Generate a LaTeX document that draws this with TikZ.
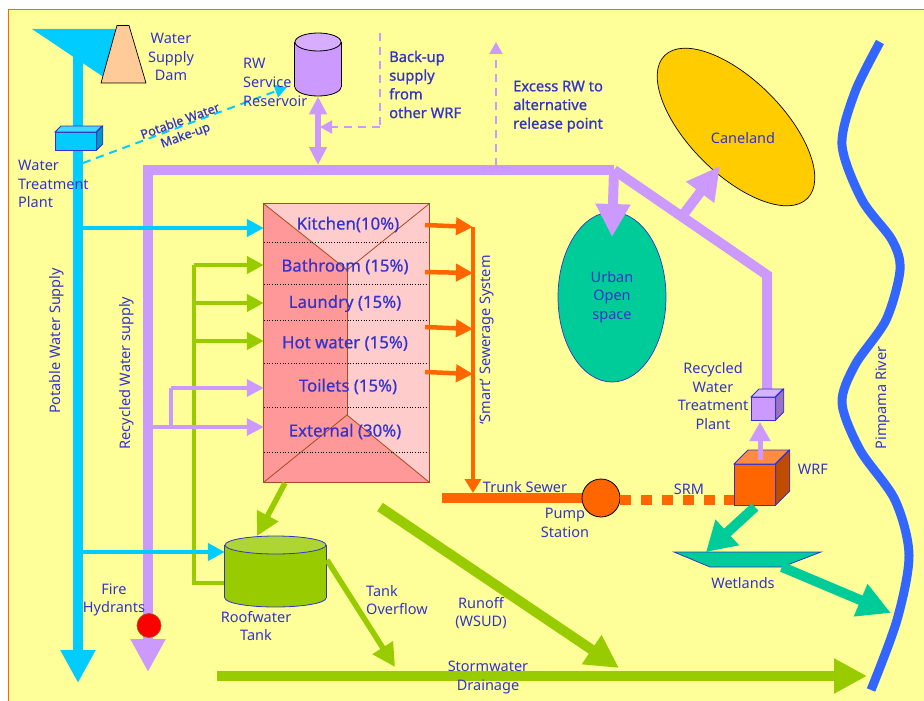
\documentclass[tikz,border=0pt]{standalone}
\usepackage{fontspec}
\setmainfont{Noto Sans}
\newfontfamily\heavyfont[FakeBold=0.9]{Noto Sans}
\newfontfamily\roomfont[FakeBold=0.5]{Noto Sans}
\usetikzlibrary{arrows.meta,shapes.geometric}
\definecolor{paper}{HTML}{FFFF99}
\definecolor{potable}{HTML}{00CCFF}
\definecolor{recycled}{HTML}{CC99FF}
\definecolor{roofgreen}{HTML}{99CC00}
\definecolor{sewer}{HTML}{FF6600}
\definecolor{wetgreen}{HTML}{00CC99}
\definecolor{riverblue}{HTML}{3366FF}
\definecolor{ink}{HTML}{3333CC}
\definecolor{wall}{HTML}{A64B1E}
\definecolor{damface}{HTML}{FFCC99}
\definecolor{caneface}{HTML}{FFCC00}
\definecolor{lightroom}{HTML}{FFCCCC}
\definecolor{darkroom}{HTML}{FF9999}
% front face as a node, then its top and side
\newcommand{\cuboid}[7]{
  \node[draw=ink, fill=#7, line width=0.8pt, minimum width=#4pt, minimum height=#5pt, anchor=north west] (#1) at (#2,#3) {};
  \draw[draw=ink, fill=#7!75!white, line width=0.8pt] (#1.north west) -- ++(#6,-#6) -- ++(#4,0) -- ++(-#6,#6) -- cycle;
  \draw[draw=ink, fill=#7!75!black, line width=0.8pt] (#1.north east) -- ++(#6,-#6) -- ++(0,#5) -- ++(-#6,#6) -- cycle;
}
% name, centre x, lid y, width, body height, lid height, fill, line
\newcommand{\barrel}[8]{
  \node[ellipse, draw=#8, fill=#7, line width=0.8pt, minimum width=#4pt, minimum height=#6pt, anchor=center] (#1foot) at (#2,#3+#5) {};
  \node[fill=#7, minimum width=#4pt, minimum height=#5pt, anchor=north] (#1) at (#2,#3) {};
  \draw[draw=#8, line width=0.8pt] (#1.north west) -- (#1.south west);
  \draw[draw=#8, line width=0.8pt] (#1.north east) -- (#1.south east);
  \node[ellipse, draw=#8, fill=#7!80!white, line width=0.8pt, minimum width=#4pt, minimum height=#6pt, anchor=center] (#1lid) at (#2,#3) {};
}
\begin{document}
\begin{tikzpicture}[
    x=1pt, y=-1pt,
    every node/.style={text=ink, font=\fontsize{14.5}{18.7}\selectfont, align=center, inner sep=0pt},
    leftlabel/.style={align=left},
    boldlabel/.style={align=left, font=\fontsize{14.7}{18.7}\selectfont\heavyfont},
    roomlabel/.style={font=\fontsize{16.8}{20}\selectfont\roomfont},
    bigpipe/.style={line width=10pt, -{Triangle[width=33pt,length=33pt]}},
    midpipe/.style={line width=5.5pt, -{Triangle[width=23pt,length=23pt]}},
    smallpipe/.style={line width=4.5pt, -{Triangle[width=17pt,length=17pt]}},
    dashpipe/.style={line width=2pt, dash pattern=on 8pt off 6pt, -{Triangle[width=13pt,length=12pt]}}
  ]
    \useasboundingbox (0,0) rectangle (924,701);
    \fill[paper] (8,10) rectangle (924,701);
    \draw[sewer, line width=1pt] (8,701) -- (8,10) -- (924,10);

    % places the pipes start from or run to
    \coordinate (damfoot) at (78,55);
    \coordinate (potend) at (78,683);
    \coordinate (mainend) at (148,672);
    \coordinate (maincorner) at (148,170);
    \coordinate (mainbend) at (614,170);
    \coordinate (mainturn) at (767,275);
    \coordinate (makeupfrom) at (83,163);
    \coordinate (makeupto) at (287,87);
    \coordinate (backuptop) at (380,33);
    \coordinate (backupelbow) at (380,127);
    \coordinate (backupto) at (320,127);
    \coordinate (excessfrom) at (496,166);
    \coordinate (excessto) at (496,42);
    \coordinate (canefrom) at (683,215);
    \coordinate (caneto) at (720,166);
    \coordinate (rainfrom) at (285,483);
    \coordinate (rainto) at (257,536);
    \coordinate (overfrom) at (327,560);
    \coordinate (overto) at (395,667);
    \coordinate (runfrom) at (380,507);
    \coordinate (runto) at (619,668);
    \coordinate (stormfrom) at (217,676);
    \coordinate (stormto) at (867,676);
    \coordinate (rainmain) at (194,265);
    \coordinate (rainfoot) at (194,583);
    \coordinate (branchfoot) at (171,427);
    \coordinate (branchtop) at (171,388);
    \coordinate (sewertop) at (473,227);
    \coordinate (sewerend) at (473,493);
    \coordinate (trunkfrom) at (442,498);
    \coordinate (wetfrom) at (755,507);
    \coordinate (wetto) at (706,552);
    \coordinate (outfrom) at (782,567);
    \coordinate (outto) at (891,613);
    \coordinate (plantup) at (760,460);
    \coordinate (plantin) at (760,422);
    \coordinate (plantfeed) at (767,392);
    \coordinate (urbanin) at (612,237);

    % river
    \draw[riverblue, line width=9pt] plot[smooth] coordinates {(880,42) (855,92) (842,145) (862,200) (892,240) (900,270) (886,320) (855,365) (842,403) (860,450) (895,500) (909,555) (897,620) (871,690)};

    % dam and pipes
    \draw[bigpipe, draw=potable] (damfoot) -- (potend);
    \fill[potable] (32,29) -- (118,29) -- (105,78) -- cycle;
    \draw[draw=black, fill=damface, line width=0.7pt] (117,25.5) -- (129,25.5) -- (146,83) -- (101,83) -- cycle;
    \draw[bigpipe, draw=recycled] (maincorner) -- (mainend);
    \draw[recycled, line width=10pt] (143,170) -- (mainbend);
    \draw[recycled, line width=10pt] (mainbend) -- (mainturn) -- (plantfeed);

    % caneland and open space
    \node[ellipse, draw=black, fill=caneface, line width=0.7pt, minimum width=202pt, minimum height=94pt, rotate=-45] (cane) at (736,127) {};
    \node[ellipse, draw=ink, fill=wetgreen, line width=0.7pt, minimum width=108pt, minimum height=170pt] (urban) at (612,297) {};
    \draw[bigpipe, draw=recycled] (mainbend) -- (urbanin);
    \draw[bigpipe, draw=recycled] (canefrom) -- (caneto);

    % reservoir
    \barrel{reservoir}{318}{42}{46}{45}{18}{recycled}{black}
    \draw[line width=6.5pt, draw=recycled, {Triangle[width=17pt,length=18pt]}-{Triangle[width=17pt,length=18pt]}] (reservoirfoot.south) -- (reservoirfoot.south |- 0,165);
    \draw[recycled, line width=2pt, dash pattern=on 8pt off 6pt] (backuptop) -- (backupelbow);
    \draw[dashpipe, draw=recycled] (backupelbow) -- (backupto);
    \draw[dashpipe, draw=recycled] (excessfrom) -- (excessto);

    % building
    \node[draw=none, fill=lightroom, minimum width=165pt, minimum height=278pt] (bldg) at (346.5,343) {};
    \coordinate (roofapex) at (347,270);
    \coordinate (footapex) at (347,415);
    \fill[darkroom] (bldg.north west) -- (roofapex) -- (footapex) -- (bldg.south east) -- (bldg.south west) -- cycle;
    \draw[wall, line width=0.8pt] (bldg.north west) -- (roofapex) -- (bldg.north east);
    \draw[wall, line width=0.8pt] (roofapex) -- (footapex);
    \draw[wall, line width=0.8pt] (bldg.south west) -- (footapex) -- (bldg.south east);
    \foreach \y in {242,284,320,363,407,452} {
      \draw[black, line width=0.7pt, dotted] (bldg.west |- 0,\y) -- (bldg.east |- 0,\y);
    }
    \draw[wall, line width=1.2pt] (bldg.north west) rectangle (bldg.south east);
    \foreach \name/\txt/\x/\y in {kitchen/Kitchen(10\%)/348/224.5, bathroom/Bathroom (15\%)/345/266.5, laundry/Laundry (15\%)/345/303.5, hotwater/Hot water (15\%)/345/343.5, toilets/Toilets (15\%)/348/386.5, external/External (30\%)/345/431.5} {
      \node[roomlabel] (\name) at (\x,\y) {\txt};
    }

    % roofwater side
    \draw[roofgreen, line width=4.5pt] (rainmain) -- (rainfoot) -- (225,583);
    \foreach \y in {265,303,341} {
      \draw[smallpipe, draw=roofgreen] (rainmain |- 0,\y) -- (bldg.west |- 0,\y);
    }
    \draw[recycled, line width=3.5pt] (branchfoot) -- (branchtop);
    \draw[smallpipe, line width=3.5pt, draw=recycled] (branchtop) -- (bldg.west |- branchtop);
    \draw[smallpipe, line width=3.5pt, draw=recycled] (maincorner |- branchfoot) -- (bldg.west |- branchfoot);
    \draw[smallpipe, draw=potable] (damfoot |- 0,228) -- (bldg.west |- 0,228);

    % sewer
    \draw[sewer, line width=10pt] (trunkfrom) -- (601,498);
    \draw[sewer, line width=3.5pt, -{Triangle[width=16pt,length=14pt]}] (sewertop) -- (sewerend);
    \draw[smallpipe, draw=sewer] (425,225) -- (sewertop);
    \draw[smallpipe, draw=sewer] (425,272) -- (sewertop |- 0,273);
    \draw[smallpipe, draw=sewer] (425,327) -- (sewertop |- 0,329);
    \draw[smallpipe, draw=sewer] (425,372) -- (sewertop |- 0,374);

    % tank
    \barrel{tank}{275.5}{545}{101}{53}{18}{roofgreen}{ink}
    \draw[smallpipe, draw=potable] (damfoot |- 0,552) -- (tank.west |- 0,552);
    \draw[midpipe, draw=roofgreen] (rainfrom) -- (rainto);
    \draw[midpipe, draw=roofgreen] (overfrom) -- (overto);
    \draw[bigpipe, draw=roofgreen] (runfrom) -- (runto);
    \draw[bigpipe, draw=roofgreen] (stormfrom) -- (stormto);

    % plant end
    \node[circle, draw=black, fill=sewer, line width=0.8pt, minimum size=38pt] (pump) at (601,498) {};
    \cuboid{wrf}{734}{464}{41}{41}{14}{sewer}
    \cuboid{rwplant}{751}{397}{24}{23}{8}{recycled}
    \draw[sewer, line width=10pt, dash pattern=on 11pt off 9.8pt] (pump.east |- 0,500) -- (wrf.west |- 0,500);
    \draw[line width=5pt, draw=recycled, -{Triangle[width=20pt,length=19pt]}] (plantup) -- (plantin);
    \draw[line width=10pt, draw=wetgreen, -{Triangle[width=33pt,length=29pt]}] (wetfrom) -- (wetto);
    \draw[draw=ink, fill=wetgreen, line width=0.8pt] (674,552) -- (821,552) -- (782,567) -- (710,567) -- cycle;
    \draw[bigpipe, draw=wetgreen] (outfrom) -- (outto);

    % make-up line and hydrant
    \cuboid{wtp}{55}{132}{41}{18}{6}{potable}
    \draw[dashpipe, draw=potable] (makeupfrom) -- (makeupto);
    \node[circle, draw=wall, fill=red, line width=0.6pt, minimum size=24pt] (hydrant) at (149,625.5) {};

    % labels
    \node (damlabel) at (171,57) {Water\\Supply\\Dam};
    \node[leftlabel, anchor=west] (wtplabel) at (18,184) {Water\\Treatment\\Plant};
    \node[leftlabel, anchor=west] (reslabel) at (243,82.5) {RW\\Service\\Reservoir};
    \node[boldlabel, anchor=west] (backlabel) at (389,84.5) {Back-up\\supply\\from\\other WRF};
    \node[boldlabel, anchor=west] (excesslabel) at (513,106.5) {Excess RW to\\alternative\\release point};
    \node[rotate=20, font=\fontsize{12.5}{15}\selectfont\roomfont] (makeuplabel) at (183,129) {Potable Water\\Make-up};
    \node[rotate=90] (potlabel) at (57,341) {Potable Water Supply};
    \node[rotate=90] (reclabel) at (127,373) {Recycled Water supply};
    \node[rotate=90] (smartlabel) at (487,340) {‘Smart’ Sewerage System};
    \node[rotate=90] (riverlabel) at (883,398) {Pimpama River};
    \node (canelabel) at (743,138) {Caneland};
    \node (urbanlabel) at (612,297) {Urban\\Open\\space};
    \node (firelabel) at (114,600) {Fire\\Hydrants};
    \node (rooflabel) at (256,626) {Roofwater\\Tank};
    \node[leftlabel, anchor=west] (overlabel) at (366,600) {Tank\\Overflow};
    \node (runofflabel) at (481,613) {Runoff\\(WSUD)};
    \node (stormlabel) at (488,677.5) {Stormwater\\Drainage};
    \node (trunklabel) at (525,487) {Trunk Sewer};
    \node (pumplabel) at (565,523) {Pump\\Station};
    \node (srmlabel) at (689,489) {SRM};
    \node (wrflabel) at (813,469) {WRF};
    \node (wetlabel) at (743,583) {Wetlands};
    \node (plantlabel) at (713,396) {Recycled\\Water\\Treatment\\Plant};
\end{tikzpicture}
\end{document}
